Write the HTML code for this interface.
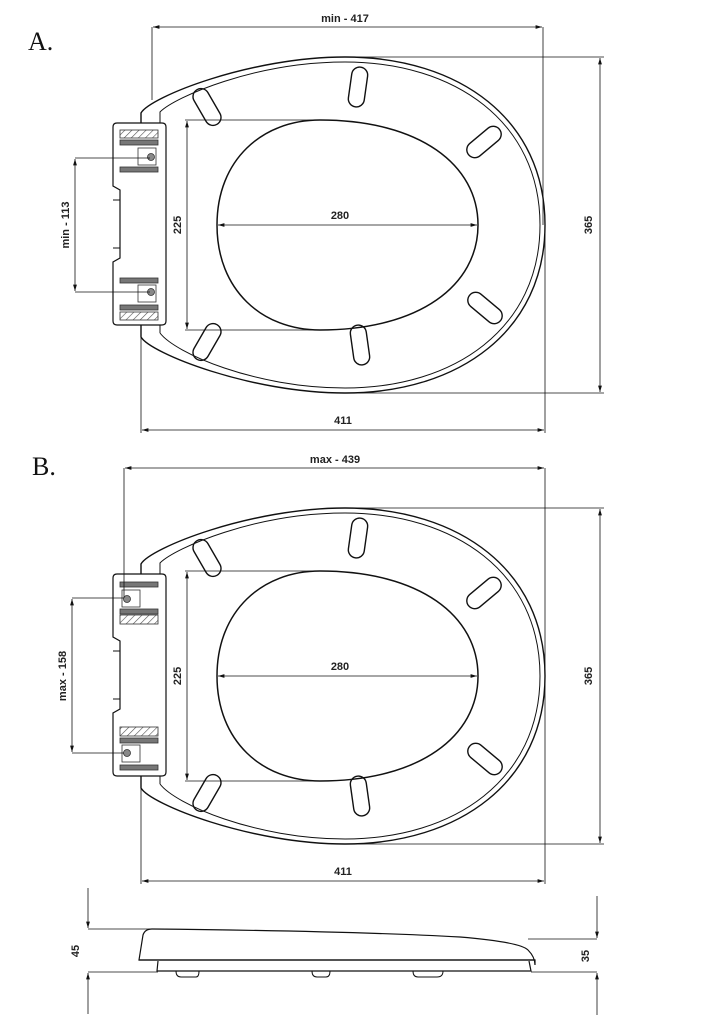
<!DOCTYPE html>
<html><head><meta charset="utf-8"><style>
html,body{margin:0;padding:0;background:#fff;}
svg{display:block}
text{font-family:"Liberation Sans",sans-serif;font-size:11px;font-weight:bold;fill:#222}
.t{font-family:"Liberation Serif",serif;font-size:26px;font-weight:normal;fill:#111}
</style></head><body>
<svg width="724" height="1024" viewBox="0 0 724 1024" xmlns="http://www.w3.org/2000/svg">
<defs>
<marker id="a" viewBox="0 0 10 6" refX="10" refY="3" markerWidth="8" markerHeight="5" orient="auto-start-reverse"><path d="M0,0 L10,3 L0,6 z" fill="#111"/></marker>
<pattern id="h" width="5" height="5" patternUnits="userSpaceOnUse" patternTransform="rotate(45)"><rect width="5" height="5" fill="#fff"/><line x1="0" y1="0" x2="0" y2="5" stroke="#555" stroke-width="1.2"/></pattern>
<g id="seat">
  <path d="M141,337 L141,113 C150,97 250,57 345,57 C460,57 545,120 545,225 C545,330 460,393 345,393 C250,393 150,353 141,337 Z" fill="none" stroke="#111" stroke-width="1.4"/>
  <path d="M160,333 L160,112 C175,97 255,62 345,62 C455,62 540,122 540,225 C540,328 455,388 345,388 C255,388 175,353 160,333" fill="none" stroke="#111" stroke-width="1"/>
  <path d="M217,225 C217,160 262,120 320,120 C420,120 478,165 478,225 C478,285 420,330 320,330 C262,330 217,290 217,225 Z" fill="none" stroke="#111" stroke-width="1.5"/>
  <g fill="none" stroke="#111" stroke-width="1.4">
    <rect x="-8" y="-20" width="16" height="40" rx="8" transform="translate(207,107) rotate(-30)"/>
    <rect x="-8" y="-20" width="16" height="40" rx="8" transform="translate(358,87) rotate(8)"/>
    <rect x="-8" y="-20" width="16" height="40" rx="8" transform="translate(484,142) rotate(50)"/>
    <rect x="-8" y="-20" width="16" height="40" rx="8" transform="translate(485,308) rotate(-50)"/>
    <rect x="-8" y="-20" width="16" height="40" rx="8" transform="translate(360,345) rotate(-8)"/>
    <rect x="-8" y="-20" width="16" height="40" rx="8" transform="translate(207,342) rotate(30)"/>
  </g>
  <g stroke="#111" stroke-width="0.8" fill="none">
    <line x1="185" y1="120" x2="320" y2="120"/><line x1="185" y1="330" x2="320" y2="330"/>
    <line x1="187" y1="121" x2="187" y2="329" marker-start="url(#a)" marker-end="url(#a)"/>
    <line x1="218" y1="225" x2="477" y2="225" marker-start="url(#a)" marker-end="url(#a)"/>
  </g>
  <text x="340" y="219" text-anchor="middle">280</text>
  <text transform="translate(181,225) rotate(-90)" text-anchor="middle">225</text>
  <path d="M117,123 H162 Q166,123 166,127 V321 Q166,325 162,325 H117 Q113,325 113,321 V262 L120,258 V190 L113,186 V127 Q113,123 117,123 Z" fill="#fff" stroke="#111" stroke-width="1.2"/>
  <path d="M113,200 H120 M113,248 H120" stroke="#111" stroke-width="1"/>
</g>
</defs>

<text class="t" x="28" y="50">A.</text>
<use href="#seat"/>
<g stroke="#333" stroke-width="0.8">
<rect x="120" y="130" width="38" height="8" fill="url(#h)"/>
<rect x="120" y="140" width="38" height="5" fill="#777"/>
<rect x="120" y="167" width="38" height="5" fill="#777"/>
<rect x="138" y="148" width="18" height="17" fill="#fff"/>
<circle cx="151" cy="157" r="3.5" fill="#888"/>
<rect x="120" y="278" width="38" height="5" fill="#777"/>
<rect x="120" y="305" width="38" height="5" fill="#777"/>
<rect x="120" y="312" width="38" height="8" fill="url(#h)"/>
<rect x="138" y="285" width="18" height="17" fill="#fff"/>
<circle cx="151" cy="292" r="3.5" fill="#888"/>
</g>
<g stroke="#111" stroke-width="0.8" fill="none">
<line x1="75" y1="158" x2="150" y2="158"/><line x1="75" y1="292" x2="150" y2="292"/>
<line x1="75" y1="159" x2="75" y2="291" marker-start="url(#a)" marker-end="url(#a)"/>
<line x1="152" y1="27" x2="152" y2="100"/><line x1="543" y1="27" x2="543" y2="225"/>
<line x1="153" y1="27" x2="542" y2="27" marker-start="url(#a)" marker-end="url(#a)"/>
<line x1="340" y1="57" x2="604" y2="57"/><line x1="340" y1="393" x2="604" y2="393"/>
<line x1="600" y1="58" x2="600" y2="392" marker-start="url(#a)" marker-end="url(#a)"/>
<line x1="141" y1="330" x2="141" y2="433"/><line x1="545" y1="225" x2="545" y2="433"/>
<line x1="142" y1="430" x2="544" y2="430" marker-start="url(#a)" marker-end="url(#a)"/>
</g>
<text x="345" y="22" text-anchor="middle">min - 417</text>
<text transform="translate(592,225) rotate(-90)" text-anchor="middle">365</text>
<text x="343" y="424" text-anchor="middle">411</text>
<text transform="translate(69,225) rotate(-90)" text-anchor="middle">min - 113</text>

<text class="t" x="32" y="475">B.</text>
<use href="#seat" transform="translate(0,451)"/>
<g stroke="#333" stroke-width="0.8">
<rect x="120" y="582" width="38" height="5" fill="#777"/>
<rect x="120" y="609" width="38" height="5" fill="#777"/>
<rect x="120" y="615" width="38" height="9" fill="url(#h)"/>
<rect x="122" y="590" width="18" height="17" fill="#fff"/>
<circle cx="127" cy="599" r="3.5" fill="#888"/>
<rect x="120" y="727" width="38" height="9" fill="url(#h)"/>
<rect x="120" y="738" width="38" height="5" fill="#777"/>
<rect x="120" y="765" width="38" height="5" fill="#777"/>
<rect x="122" y="745" width="18" height="17" fill="#fff"/>
<circle cx="127" cy="753" r="3.5" fill="#888"/>
</g>
<g stroke="#111" stroke-width="0.8" fill="none">
<line x1="72" y1="598" x2="124" y2="598"/><line x1="72" y1="753" x2="124" y2="753"/>
<line x1="72" y1="599" x2="72" y2="752" marker-start="url(#a)" marker-end="url(#a)"/>
<line x1="124" y1="468" x2="124" y2="598"/><line x1="545" y1="468" x2="545" y2="676"/>
<line x1="125" y1="468" x2="544" y2="468" marker-start="url(#a)" marker-end="url(#a)"/>
<line x1="340" y1="508" x2="604" y2="508"/><line x1="340" y1="844" x2="604" y2="844"/>
<line x1="600" y1="509" x2="600" y2="843" marker-start="url(#a)" marker-end="url(#a)"/>
<line x1="141" y1="781" x2="141" y2="884"/><line x1="545" y1="676" x2="545" y2="884"/>
<line x1="142" y1="881" x2="544" y2="881" marker-start="url(#a)" marker-end="url(#a)"/>
</g>
<text x="335" y="463" text-anchor="middle">max - 439</text>
<text transform="translate(592,676) rotate(-90)" text-anchor="middle">365</text>
<text x="343" y="875" text-anchor="middle">411</text>
<text transform="translate(66,676) rotate(-90)" text-anchor="middle">max - 158</text>

<g stroke="#111" fill="none">
<path d="M139,960 L143,935 Q145,929 152,929 Q350,931 460,937 Q520,942 528,950 Q535,957 535,965 L535,960 Z" stroke-width="1.2" fill="#fff"/>
<line x1="139" y1="960" x2="535" y2="960" stroke-width="1.2"/>
<path d="M158,961 L157,971 L531,971 L529,961" stroke-width="1.2"/>
<path d="M176,971 Q176,977 181,977 H196 Q199,977 199,971 M312,971 Q312,977 317,977 H326 Q330,977 330,971 M413,971 Q413,977 418,977 H437 Q443,977 443,971" stroke-width="1"/>
<g stroke-width="0.8">
<line x1="88" y1="888" x2="88" y2="928" marker-end="url(#a)"/>
<line x1="88" y1="1014" x2="88" y2="973" marker-end="url(#a)"/>
<line x1="88" y1="929" x2="150" y2="929"/>
<line x1="88" y1="972" x2="158" y2="972"/>
<line x1="597" y1="896" x2="597" y2="938" marker-end="url(#a)"/>
<line x1="597" y1="1015" x2="597" y2="973" marker-end="url(#a)"/>
<line x1="528" y1="939" x2="597" y2="939"/>
<line x1="531" y1="972" x2="597" y2="972"/>
</g>
</g>
<text transform="translate(79,951) rotate(-90)" text-anchor="middle">45</text>
<text transform="translate(589,956) rotate(-90)" text-anchor="middle">35</text>
</svg>
</body></html>
